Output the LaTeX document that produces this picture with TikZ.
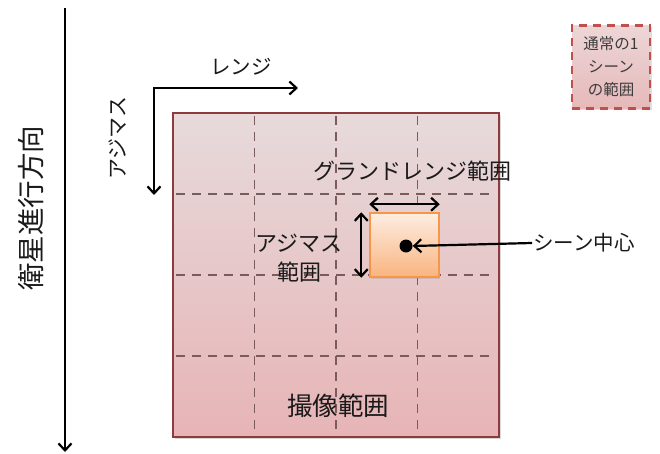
\documentclass[tikz,border=0pt]{standalone}
\usepackage{fontspec}
\newfontfamily\jp{Noto Sans CJK JP}
\usetikzlibrary{arrows.meta,shadows}
\definecolor{areaTop}{HTML}{E7DADB}
\definecolor{areaBot}{HTML}{E7B4B6}
\definecolor{areaEdge}{HTML}{8E3B3E}
\definecolor{gridCol}{HTML}{7A5C5D}
\definecolor{sceneTop}{HTML}{FDEDE2}
\definecolor{sceneBot}{HTML}{F9B47F}
\definecolor{sceneEdge}{HTML}{F79646}
\definecolor{legEdge}{HTML}{C0504D}
\definecolor{legTop}{HTML}{EDD6D7}
\definecolor{legBot}{HTML}{E6B9BA}
\definecolor{txt}{HTML}{1A1A1A}
\begin{document}
\begin{tikzpicture}[x=1pt,y=-1pt,
  font=\jp\fontsize{22}{29}\selectfont,
  arr/.style={-{Straight Barb[length=7pt,width=13pt]}, line width=2.2pt},
  darr/.style={{Straight Barb[length=7pt,width=13pt]}-{Straight Barb[length=7pt,width=13pt]}, line width=2.2pt},
  gridline/.style={draw=gridCol, line width=1.8pt, dash pattern=on 9pt off 7pt},
  lbl/.style={inner sep=1pt, text=txt}]
\useasboundingbox (0,0) rectangle (660,454);

% imaging area
\node[draw=areaEdge, line width=1.6pt, top color=areaTop, bottom color=areaBot,
  minimum width=326pt, minimum height=324pt, inner sep=0,
  drop shadow={opacity=0.3, shadow xshift=1.5pt, shadow yshift=-2pt}] (area) at (336,275) {};
\foreach \x in {254.5,336,417.5} \draw[gridline] (\x,116) -- (\x,434);
\foreach \y in {194,275,356} \draw[gridline] (176,\y) -- (496,\y);

% scene
\node[draw=sceneEdge, line width=1.5pt, top color=sceneTop, bottom color=sceneBot,
  minimum width=69pt, minimum height=64pt, inner sep=0,
  drop shadow={opacity=0.2, shadow xshift=1pt, shadow yshift=-1.5pt}] (scene) at (404.5,245) {};
\node[circle, fill=black, inner sep=0, minimum size=13pt] (center) at (406,246) {};
\draw[darr] ([yshift=8pt]scene.north west) -- ([yshift=8pt]scene.north east);
\draw[darr] ([xshift=-8pt]scene.north west) -- ([xshift=-8pt]scene.south west);

% labels
\node[lbl] (gr) at (412,171) {グランドレンジ範囲};
\node[lbl, align=center] (azr) at (299,258) {アジマス\\範囲};
\node[lbl, font=\jp\fontsize{20.5}{24}\selectfont] (sclabel) at (584,243) {シーン中心};
\draw[arr] (sclabel.west) -- (center.east);
\node[lbl, font=\jp\fontsize{25.5}{28}\selectfont] (imaging) at (338,406) {撮像範囲};

% satellite direction
\coordinate (sat0) at (65,8);
\coordinate (sat1) at (65,452);
\draw[arr] (sat0) -- (sat1);
\node[lbl, rotate=90, font=\jp\fontsize{27.5}{30}\selectfont] (satlbl) at (31,208) {衛星進行方向};

% range / azimuth axes
\coordinate (corner) at (154,88);
\coordinate (rngEnd) at (298,88);
\coordinate (azEnd) at (154,195);
\draw[darr, line join=miter] (azEnd) -- (corner) -- (rngEnd);
\node[lbl, font=\jp\fontsize{20.5}{24}\selectfont] (rnglbl) at (241,67) {レンジ};
\node[lbl, rotate=90, font=\jp\fontsize{21}{24}\selectfont] (azlbl) at (118,138) {アジマス};

% legend
\node[draw=legEdge, line width=2.6pt, dash pattern=on 8pt off 6pt, top color=legTop, bottom color=legBot,
  minimum width=78pt, minimum height=83pt, inner sep=0, align=center, text=txt!85,
  drop shadow={opacity=0.25, shadow xshift=1.5pt, shadow yshift=-2pt},
  font=\jp\fontsize{15.5}{23}\selectfont] (legend) at (611,67) {通常の1\\シーン\\の範囲};
\end{tikzpicture}
\end{document}
